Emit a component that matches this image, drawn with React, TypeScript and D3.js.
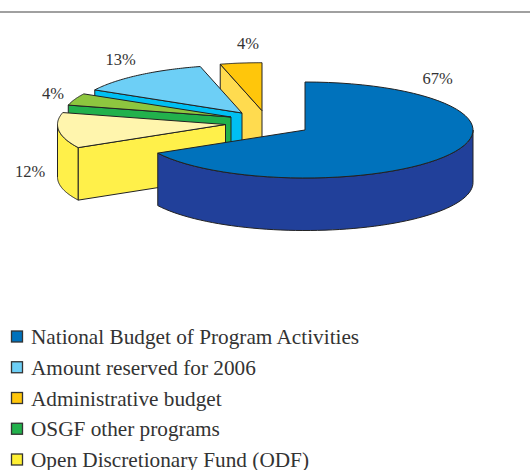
import React from "react";
import * as d3 from "d3";

const legendLabels = [
  "National Budget of Program Activities",
  "Amount reserved for 2006",
  "Administrative budget",
  "OSGF other programs",
  "Open Discretionary Fund (ODF)",
];
const legendColors = ["#0072BC", "#6DCFF6", "#FFC60B", "#22B14C", "#FFF033"];

// slices clockwise from 12 o'clock
const sliceNames = ["National", "ODF", "OSGF", "Reserved", "Admin"];
const sliceValues = [67, 12, 4, 13, 4];
const topColors = ["#0072BC", "#FFF5AD", "#8DC63F", "#6DCFF6", "#FFC60B"];
const wallColors = ["#21409A", "#FFF04A", "#22B14C", "#00BFF3", "#FFDB4F"];
const apexX = [305, 225.5, 231, 242, 262];
const apexY = [130, 124.5, 117, 113, 110.7];
const labelText = ["67%", "12%", "4%", "13%", "4%"];
const labelX = [437.5, 30, 53, 120.5, 248];
const labelY = [84, 177, 99, 65, 49];

const RX = 168;
const RY = 48;
const DEPTH = 52.5;

const xScale = d3.scaleLinear().domain([-1, 1]).range([-RX, RX]);
const yScale = d3.scaleLinear().domain([-1, 1]).range([-RY, RY]);
const px = (a: number) => xScale(Math.sin(a));
const py = (a: number) => yScale(-Math.cos(a));

const arcPts = (a0: number, a1: number, cx: number, cy: number, dy = 0) =>
  d3.range(0, 61).map((i) => {
    const a = a0 + ((a1 - a0) * i) / 60;
    return [cx + px(a), cy + py(a) + dy] as [number, number];
  });

const line = d3.line();
const closed = (pts: [number, number][]) => line(pts) + "Z";

const pieGen = d3.pie<number>().sort(null).value((d) => d);
const arcs = pieGen(sliceValues);
const HALF_PI = Math.PI / 2;

function Slice({ i }: { i: number }) {
  const { startAngle: a0, endAngle: a1 } = arcs[i];
  const cx = apexX[i];
  const cy = apexY[i];
  const stroke = "#222";
  const walls: string[] = [];
  const apex: [number, number] = [cx, cy];
  const startPt: [number, number] = [cx + px(a0), cy + py(a0)];

  // front curved wall: visible for angles between 90 and 270 degrees
  const wa0 = Math.max(a0, HALF_PI);
  const wa1 = Math.min(a1, 3 * HALF_PI);
  if (wa1 > wa0) {
    const topArc = arcPts(wa0, wa1, cx, cy);
    const botArc = arcPts(wa0, wa1, cx, cy, DEPTH).reverse();
    walls.push(closed([...topArc, ...botArc]));
  }
  // radial face at the start angle, visible when the slice lies above the cut
  if (i !== 0) {
    walls.push(
      closed([
        startPt,
        apex,
        [cx, cy + DEPTH],
        [startPt[0], startPt[1] + DEPTH],
      ])
    );
  }
  const top = closed([apex, ...arcPts(a0, a1, cx, cy)]);
  return (
    <g strokeLinejoin="round">
      {walls.map((d, k) => (
        <path key={k} d={d} fill={wallColors[i]} stroke={stroke} strokeWidth={1} />
      ))}
      <path d={top} fill={topColors[i]} stroke={stroke} strokeWidth={1} />
      <title>{sliceNames[i]}</title>
    </g>
  );
}

const drawOrder = [4, 3, 2, 1, 0];
const legendY = d3.scaleLinear().domain([0, 4]).range([337, 460]);
const serif = "'Liberation Serif', serif";

export default function App() {
  return (
    <svg
      width={530}
      height={470}
      viewBox="0 0 530 470"
      style={{ position: "absolute", left: 0, top: 0, display: "block", background: "#fff" }}
    >
      <line x1={0} x2={530} y1={12} y2={12} stroke="#808080" strokeWidth={1.4} />
      {drawOrder.map((i) => (
        <Slice key={i} i={i} />
      ))}
      {labelText.map((t, i) => (
        <text
          key={i}
          x={labelX[i]}
          y={labelY[i]}
          textAnchor="middle"
          fontFamily={serif}
          fontSize={16.5}
          fill="#333"
        >
          {t}
        </text>
      ))}
      {legendLabels.map((t, i) => (
        <g key={t}>
          <rect
            x={11.5}
            y={legendY(i) - 6}
            width={11}
            height={11}
            fill={legendColors[i]}
            stroke="#333"
            strokeWidth={1.3}
          />
          <text
            x={31}
            y={legendY(i) + 7}
            fontFamily={serif}
            fontSize={21.25}
            fill="#333"
          >
            {t}
          </text>
        </g>
      ))}
    </svg>
  );
}
